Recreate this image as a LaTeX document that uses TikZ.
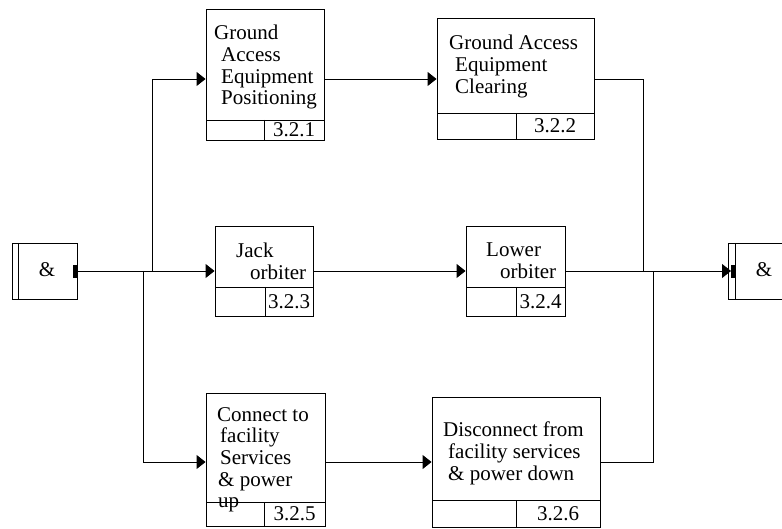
\documentclass[tikz,border=0pt]{standalone}
\usepackage{fontspec}
\setmainfont{Liberation Serif}
\usetikzlibrary{fit,arrows.meta}
\tikzset{
  box/.style={draw=black, line width=0.9pt, inner sep=0pt, rectangle},
  boxline/.style={draw=black, line width=0.9pt},
  lbl/.style={inner sep=0pt, anchor=north west, align=left, font=\fontsize{21}{21.7}\selectfont},
  numtext/.style={inner sep=0pt, anchor=center, font=\fontsize{21}{21.7}\selectfont},
  conn/.style={draw=black, line width=0.9pt},
  arr/.style={conn, -{Triangle[length=9pt,width=14pt]}},
  tab/.style={fill=black, draw=none},
}
\newcommand\actbox[8]{%
  \coordinate (#1-nw) at (#2,#3);
  \coordinate (#1-se) at (#4,#5);
  \node[box, fit=(#1-nw)(#1-se)] (#1) {};
  \draw[boxline] (#2,#6) -- (#4,#6);
  \draw[boxline] (#7,#6) -- (#7,#5);
  \node[numtext] (#1-num) at ({(#7+#4)/2},{(#6+#5)/2}) {#8};
}
\begin{document}
\begin{tikzpicture}[x=1pt,y=-1pt]
\useasboundingbox (0,0) rectangle (782,529);
\clip (0,0) rectangle (782,529);

% activity boxes
\actbox{b1}{206}{9}{324}{140}{120}{264}{3.2.1}
\actbox{b2}{437}{18}{594}{139}{113}{516}{3.2.2}
\actbox{b3}{215}{226}{313}{316}{287}{265}{3.2.3}
\actbox{b4}{466}{226}{565}{316}{287}{516}{3.2.4}
\actbox{b5}{206}{393}{325}{526}{502}{264}{3.2.5}
\actbox{b6}{432}{397}{600}{527}{500}{516}{3.2.6}

% labels
\node[lbl] (t1) at (214,25) {Ground\\\hspace{7pt}Access\\\hspace{7pt}Equipment\\\hspace{7pt}Positioning};
\node[lbl] (t2) at (449,35) {Ground Access\\\hspace{6pt}Equipment\\\hspace{6pt}Clearing};
\node[lbl] (t3) at (236,243) {Jack\\\hspace{14pt}orbiter};
\node[lbl] (t4) at (486,243) {Lower\\\hspace{14pt}orbiter};
\node[lbl] (t5) at (217,407) {Connect to\\\hspace{3pt}facility\\\hspace{3pt}Services\\\hspace{1pt}\& power\\\hspace{1pt}up};
\node[lbl] (t6) at (443,422) {Disconnect from\\\hspace{5pt}facility services\\\hspace{5pt}\& power down};

% junctions
\coordinate (jl-nw) at (12,243); \coordinate (jl-se) at (77,299);
\node[box, fit=(jl-nw)(jl-se)] (jl) {};
\draw[boxline] (18,243) -- (18,299);
\node[numtext] (jlt) at (47,270) {\&};
\fill[tab] (73,265) rectangle (77,278);
\coordinate (jl-out) at (77,271);

\coordinate (jr-nw) at (728,243); \coordinate (jr-se) at (794,299);
\node[box, fit=(jr-nw)(jr-se)] (jr) {};
\draw[boxline] (735,243) -- (735,299);
\node[numtext] (jrt) at (764,270) {\&};
\fill[tab] (731,265) rectangle (735,278);
\coordinate (jr-in) at (731,271);

% split points
\coordinate (s1) at (152,271);
\coordinate (s2) at (143,271);
\coordinate (m1) at (643,271);
\coordinate (m2) at (653,271);

% connectors
\draw[arr] (jl-out) -- (b3.west |- jl-out);
\draw[arr] (s1) |- (b1.west |- 0,79);
\draw[arr] (s2) |- (b5.west |- 0,462);
\draw[arr] (b1.east |- 0,79) -- (b2.west |- 0,79);
\draw[arr] (b3.east |- 0,271) -- (b4.west |- 0,271);
\draw[arr] (b5.east |- 0,462) -- (b6.west |- 0,462);
\draw[conn] (b2.east |- 0,79) -| (m1);
\draw[conn] (b6.east |- 0,462) -| (m2);
\draw[arr] (b4.east |- 0,271) -- (jr-in);
\end{tikzpicture}
\end{document}
